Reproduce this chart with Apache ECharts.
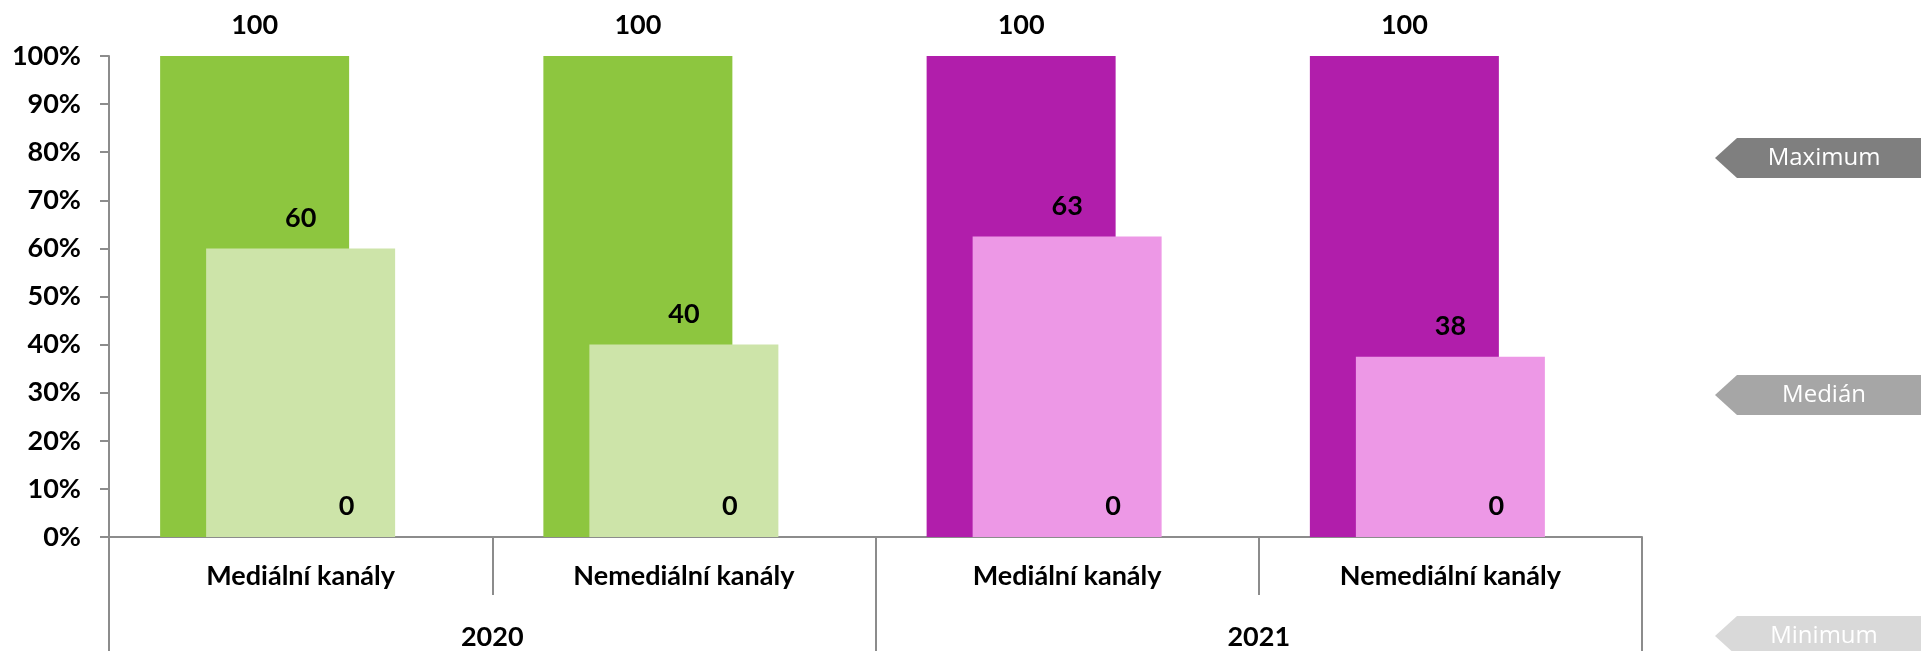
<!DOCTYPE html>
<html>
<head>
<meta charset="utf-8">
<script src="https://cdn.jsdelivr.net/npm/echarts@6/dist/echarts.min.js"></script>
<style>
  html, body { margin: 0; padding: 0; background: #ffffff; }
  #chart { width: 1921px; height: 651px; }
</style>
</head>
<body>
<div id="chart"></div>
<script>
"use strict";

/* ---------- data ---------- */
const categories = ["Mediální kanály", "Nemediální kanály", "Mediální kanály", "Nemediální kanály"];
const years = ["2020", "2021"];
const categoryYear = [0, 0, 1, 1];
const maximumValues = [100, 100, 100, 100];
const medianValues = [60, 40, 62.5, 37.5];
const minimumValues = [0, 0, 0, 0];
const legendNames = ["Maximum", "Medián", "Minimum"];

/* ---------- theme ---------- */
const Theme = {
    darkByYear: ["#8DC63F", "#B11EAB"],
    lightByYear: ["#CDE4A9", "#ED98E6"],
    axis: "#8C8C8C",
    text: "#000000",
    legend: ["#7F7F7F", "#A6A6A6", "#D9D9D9"]
};

const FONT = "Lato, 'Open Sans', sans-serif";
const FONT_SIZE = 27;
const BAR_W = 189;
const BAR_GAP = "-75.66%";

function valueLabel(){
    return {
        show: true,
        position: "top",
        distance: 17,
        fontFamily: FONT,
        fontWeight: "bold",
        fontSize: FONT_SIZE,
        color: Theme.text,
        formatter: p => Math.round(p.value)
    };
}

function legendTag(name, yCenter, color){
    const h = 40, tip = 1715, body = 1737, right = 1925;
    const top = yCenter - h / 2, bottom = yCenter + h / 2;
    return [
        {
            type: "polygon",
            shape: { points: [[tip, yCenter], [body, top], [right, top], [right, bottom], [body, bottom]] },
            style: { fill: color }
        },
        {
            type: "text",
            x: 1824,
            y: yCenter,
            style: {
                text: name,
                fill: "#ffffff",
                font: "24px 'Open Sans', sans-serif",
                align: "center",
                verticalAlign: "middle"
            }
        }
    ];
}

const chart = echarts.init(document.getElementById("chart"));

chart.setOption({
    animation: false,
    grid: { left: 109, right: 279, top: 56, bottom: 114 },
    xAxis: [
        {
            type: "category",
            position: "bottom",
            data: categories,
            axisLine: { show: true, lineStyle: { color: Theme.axis, width: 2 } },
            axisTick: { show: true, interval: 0, length: 58, lineStyle: { color: Theme.axis, width: 2 } },
            axisLabel: {
                margin: 39,
                verticalAlign: "middle",
                fontFamily: FONT,
                fontWeight: "bold",
                fontSize: FONT_SIZE,
                color: Theme.text
            }
        },
        {
            type: "category",
            position: "bottom",
            data: years,
            axisLine: { show: false },
            axisTick: { show: true, interval: 0, length: 130, lineStyle: { color: Theme.axis, width: 2 } },
            axisLabel: {
                margin: 100,
                verticalAlign: "middle",
                fontFamily: FONT,
                fontWeight: "bold",
                fontSize: FONT_SIZE,
                color: Theme.text
            }
        }
    ],
    yAxis: {
        type: "value",
        min: 0,
        max: 100,
        interval: 10,
        splitLine: { show: false },
        axisLine: { show: true, lineStyle: { color: Theme.axis, width: 2 } },
        axisTick: { show: true, length: 9, lineStyle: { color: Theme.axis, width: 2 } },
        axisLabel: {
            margin: 28,
            formatter: "{value}%",
            fontFamily: FONT,
            fontWeight: "bold",
            fontSize: FONT_SIZE,
            color: Theme.text
        }
    },
    series: [
        {
            name: legendNames[0],
            type: "bar",
            barWidth: BAR_W,
            barGap: BAR_GAP,
            data: maximumValues,
            itemStyle: { color: p => Theme.darkByYear[categoryYear[p.dataIndex]] },
            label: valueLabel()
        },
        {
            name: legendNames[1],
            type: "bar",
            barWidth: BAR_W,
            barGap: BAR_GAP,
            data: medianValues,
            itemStyle: { color: p => Theme.lightByYear[categoryYear[p.dataIndex]] },
            label: valueLabel()
        },
        {
            name: legendNames[2],
            type: "bar",
            barWidth: BAR_W,
            barGap: BAR_GAP,
            data: minimumValues,
            itemStyle: { color: p => Theme.lightByYear[categoryYear[p.dataIndex]] },
            label: valueLabel()
        }
    ],
    graphic: [
        ...legendTag(legendNames[0], 158, Theme.legend[0]),
        ...legendTag(legendNames[1], 395, Theme.legend[1]),
        ...legendTag(legendNames[2], 636, Theme.legend[2])
    ]
});
</script>
</body>
</html>
